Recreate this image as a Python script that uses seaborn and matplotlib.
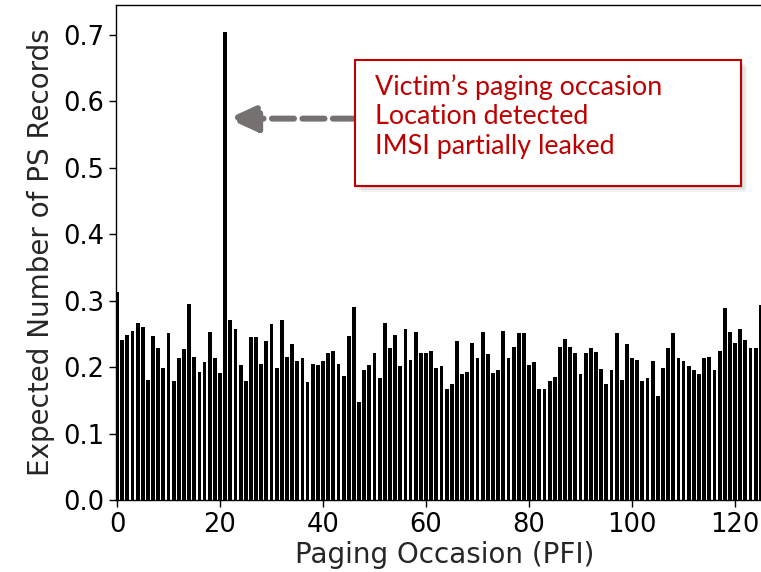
import matplotlib
matplotlib.use("Agg")
import matplotlib.pyplot as plt
import matplotlib.patches as mpatches
import seaborn as sns


# expected number of PS records per paging frame index
PFI = list(range(126))
PS_RECORDS = [
    0.313, 0.241, 0.249, 0.255, 0.267, 0.261, 0.181, 0.247, 0.229, 0.199,
    0.251, 0.179, 0.213, 0.227, 0.295, 0.215, 0.193, 0.207, 0.253, 0.213,
    0.191, 0.705, 0.271, 0.257, 0.203, 0.179, 0.245, 0.245, 0.205, 0.239,
    0.265, 0.198, 0.271, 0.215, 0.235, 0.209, 0.213, 0.177, 0.205, 0.203,
    0.209, 0.221, 0.225, 0.205, 0.186, 0.247, 0.291, 0.147, 0.196, 0.203,
    0.221, 0.183, 0.267, 0.229, 0.249, 0.201, 0.257, 0.211, 0.253, 0.221,
    0.221, 0.225, 0.198, 0.201, 0.167, 0.174, 0.239, 0.189, 0.193, 0.237,
    0.213, 0.253, 0.219, 0.191, 0.195, 0.255, 0.213, 0.231, 0.251, 0.251,
    0.203, 0.207, 0.167, 0.167, 0.179, 0.185, 0.231, 0.243, 0.231, 0.221,
    0.189, 0.221, 0.229, 0.223, 0.197, 0.175, 0.195, 0.251, 0.181, 0.235,
    0.213, 0.211, 0.179, 0.183, 0.209, 0.157, 0.199, 0.229, 0.251, 0.213,
    0.209, 0.201, 0.195, 0.189, 0.213, 0.215, 0.195, 0.225, 0.289, 0.253,
    0.237, 0.257, 0.241, 0.229, 0.229, 0.293,
]
X_TICKS = [0, 20, 40, 60, 80, 100, 120]
Y_TICKS = [0.0, 0.1, 0.2, 0.3, 0.4, 0.5, 0.6, 0.7]

VICTIM_PFI = 21
ARROW_Y = 0.574
NOTE_LINES = ["Victim\u2019s paging occasion", "Location detected", "IMSI partially leaked"]

RED = "#C00000"
GREY = "#767171"

sns.set_style("ticks")
plt.rcParams["font.family"] = ["DejaVu Sans"]

fig = plt.figure(figsize=(7.61, 5.72), dpi=100)
# axes runs past the right edge of the figure, as in the cropped original
ax = fig.add_axes([116 / 761, 72 / 572, 658.2 / 761, 495 / 572])

# consecutive PFIs, so the categorical positions equal the PFI values
sns.barplot(
    x=PFI,
    y=PS_RECORDS,
    width=0.74,
    color="black",
    saturation=1,
    errorbar=None,
    linewidth=0,
    ax=ax,
)

ax.set_xlim(-0.2, 127.6)
ax.set_ylim(0, 0.745)
ax.set_xticks(X_TICKS)
ax.set_xticklabels([str(t) for t in X_TICKS])
ax.set_yticks(Y_TICKS)
ax.set_yticklabels([f"{t:.1f}" for t in Y_TICKS])
ax.tick_params(labelsize=18.5, length=5, width=1, colors="black")
ax.set_xlabel("Paging Occasion (PFI)", fontsize=20, labelpad=2)
ax.set_ylabel("Expected Number of PS Records", fontsize=20, labelpad=6)
for side in ["left", "bottom", "top", "right"]:
    ax.spines[side].set_visible(True)
    ax.spines[side].set_color("black")
    ax.spines[side].set_linewidth(1)

# dashed arrow pointing at the victim's bar
ax.annotate(
    "",
    xy=(VICTIM_PFI + 0.55, ARROW_Y),
    xytext=(46.2, ARROW_Y),
    arrowprops=dict(
        arrowstyle="-|>,head_length=1.2,head_width=0.55",
        mutation_scale=15,
        color=GREY,
        lw=4.3,
        linestyle=(0, (3.7, 1.4)),
        shrinkA=0,
        shrinkB=0,
    ),
)

# note box with a soft shadow
bx, by, bw, bh = 355 / 761, 1 - 186 / 572, 386 / 761, 126 / 572
for i, a in enumerate([0.05, 0.06, 0.07]):
    off = (6 - 2 * i) / 761
    fig.patches.append(
        mpatches.Rectangle(
            (bx + off, by - off * 761 / 572), bw, bh,
            transform=fig.transFigure, facecolor="black", alpha=a,
            edgecolor="none", zorder=4,
        )
    )
fig.patches.append(
    mpatches.Rectangle(
        (bx, by), bw, bh, transform=fig.transFigure,
        facecolor="white", edgecolor=RED, linewidth=1.5, zorder=5,
    )
)
fig.text(
    375 / 761, 1 - 74 / 572, "\n".join(NOTE_LINES),
    color=RED, fontsize=19.4, family=["Lato", "DejaVu Sans"],
    va="top", ha="left", linespacing=1.22, zorder=6,
)

fig.savefig("out.png", dpi=100)
